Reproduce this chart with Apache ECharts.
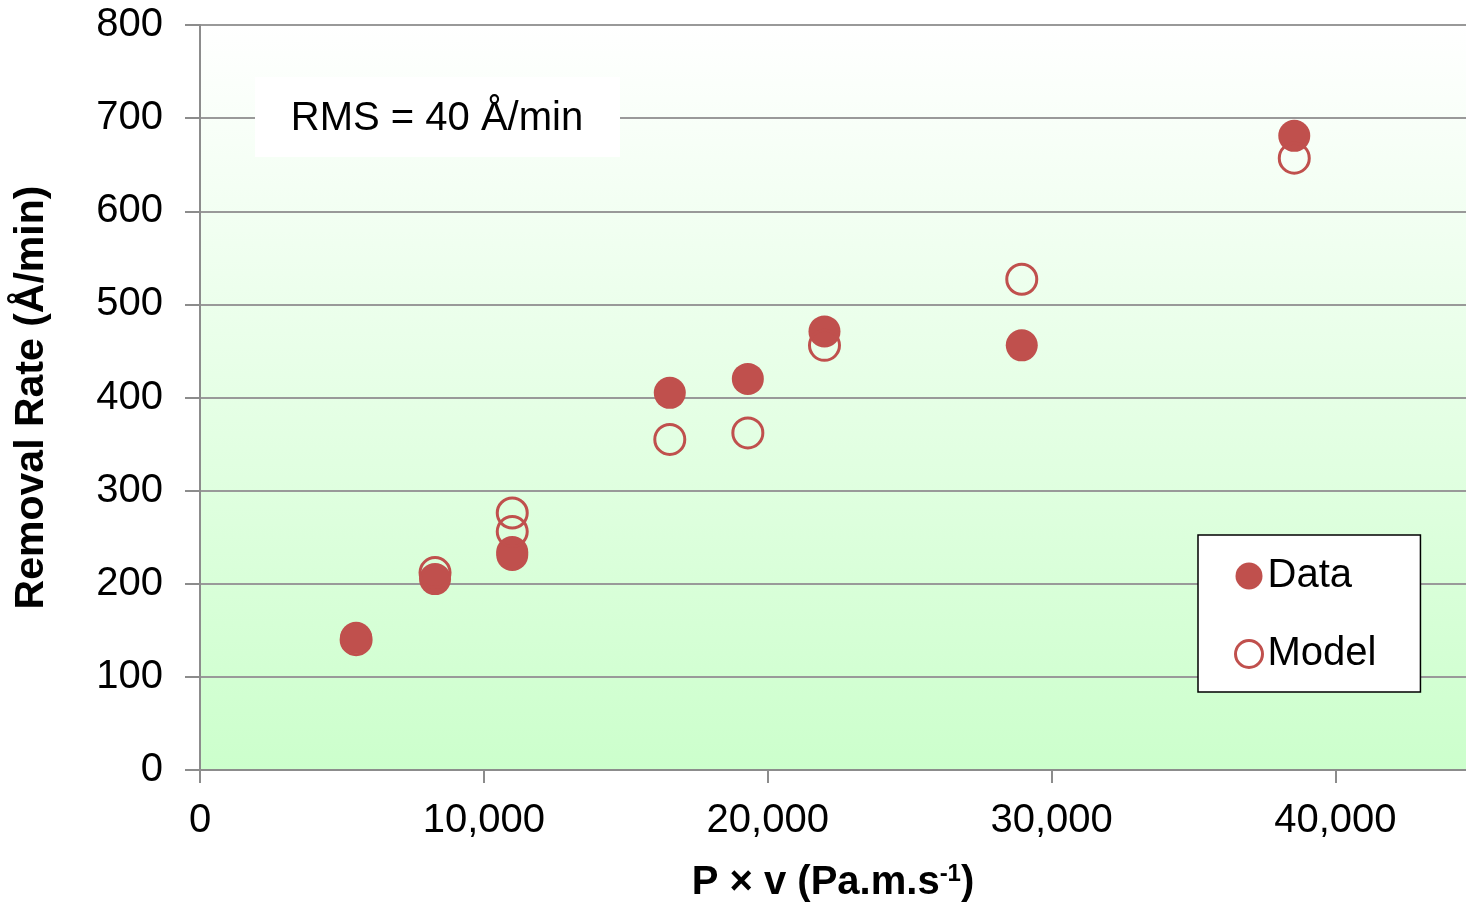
<!DOCTYPE html>
<html>
<head>
<meta charset="utf-8">
<title>Removal Rate vs P × v</title>
<script src="https://cdn.jsdelivr.net/npm/echarts@6/dist/echarts.min.js"></script>
<style>
  html, body { margin: 0; padding: 0; background: #ffffff; }
  #chart { width: 1466px; height: 904px; }
</style>
</head>
<body>
<div id="chart"></div>
<script>
// Measured removal rate (Å/min) against P × v (Pa.m.s⁻¹)
const dataPv   = [5500, 8280, 11000, 11000, 16550, 19300, 22000, 28950, 38550];
const dataRate = [142, 205, 231, 234, 405, 420, 471, 456, 681];

// Model predictions at the same P × v values
const modelPv   = [5500, 8280, 11000, 11000, 16550, 19300, 22000, 28950, 38550];
const modelRate = [140, 212, 256, 276, 355, 362, 456, 527, 657];

// Axis ranges; the x range runs a little past the last labelled tick
const xTicks = { min: 0, max: 44600, interval: 10000, lastLabel: 40000 };
const yTicks = { min: 0, max: 800, interval: 100 };

const rmsText = 'RMS = 40 Å/min';

const RED = '#C0504D';
const FONT = '"Liberation Sans", Arial, Helvetica, sans-serif';

const pairs = (xs, ys) => xs.map((x, i) => [x, ys[i]]);

const chart = echarts.init(document.getElementById('chart'), null, { renderer: 'canvas' });

chart.setOption({
  animation: false,
  backgroundColor: '#ffffff',
  textStyle: { fontFamily: FONT },
  grid: {
    left: 200,
    right: 0,
    top: 25,
    bottom: 134,
    outerBoundsMode: 'none',
    containLabel: false,
    show: true,
    borderWidth: 0,
    backgroundColor: new echarts.graphic.LinearGradient(0, 0, 0, 1, [
      { offset: 0, color: '#ffffff' },
      { offset: 1, color: '#ccffcc' }
    ])
  },
  xAxis: {
    type: 'value',
    min: xTicks.min,
    max: xTicks.max,
    interval: xTicks.interval,
    name: 'P × v (Pa.m.s{sup|-1})',
    nameLocation: 'middle',
    nameGap: 92,
    nameTextStyle: {
      fontFamily: FONT,
      fontSize: 40,
      fontWeight: 'bold',
      color: '#000',
      rich: {
        sup: { fontFamily: FONT, fontSize: 24, fontWeight: 'bold', color: '#000', verticalAlign: 'top', padding: [0, 0, 18, 0] }
      }
    },
    axisLine: { show: true, onZero: false, lineStyle: { color: '#8c8c8c', width: 2 } },
    axisTick: { show: true, length: 13, lineStyle: { color: '#8c8c8c', width: 2 } },
    axisLabel: {
      margin: 31,
      fontFamily: FONT,
      fontSize: 40,
      color: '#000',
      showMaxLabel: false,
      formatter: v => (v > xTicks.lastLabel ? '' : v.toLocaleString('en-US'))
    },
    splitLine: { show: false }
  },
  yAxis: {
    type: 'value',
    min: yTicks.min,
    max: yTicks.max,
    interval: yTicks.interval,
    name: 'Removal Rate (Å/min)',
    nameLocation: 'middle',
    nameGap: 148,
    nameTextStyle: { fontFamily: FONT, fontSize: 41, fontWeight: 'bold', color: '#000' },
    axisLine: { show: true, lineStyle: { color: '#8c8c8c', width: 2 } },
    axisTick: { show: true, length: 15, lineStyle: { color: '#8c8c8c', width: 2 } },
    axisLabel: { margin: 37, fontFamily: FONT, fontSize: 40, color: '#000' },
    splitLine: { show: true, lineStyle: { color: '#999999', width: 2 } }
  },
  legend: {
    left: 1198,
    top: 535,
    orient: 'vertical',
    backgroundColor: '#ffffff',
    borderColor: '#000000',
    borderWidth: 1.5,
    borderRadius: 0,
    padding: [21, 44, 18, 36],
    itemGap: 38,
    itemWidth: 27,
    itemHeight: 27,
    textStyle: { fontFamily: FONT, fontSize: 40, color: '#000' },
    data: [
      { name: 'Data', icon: 'circle', itemStyle: { color: RED } },
      { name: 'Model', icon: 'circle', itemStyle: { color: '#ffffff', borderColor: RED, borderWidth: 3 } }
    ]
  },
  series: [
    {
      name: 'Data',
      type: 'scatter',
      symbol: 'circle',
      symbolSize: 32,
      itemStyle: { color: RED, opacity: 1 },
      data: pairs(dataPv, dataRate),
      z: 2
    },
    {
      name: 'Model',
      type: 'scatter',
      symbol: 'circle',
      symbolSize: 30,
      itemStyle: { color: 'rgba(0,0,0,0)', borderColor: RED, borderWidth: 3, opacity: 1 },
      data: pairs(modelPv, modelRate),
      z: 3
    }
  ],
  graphic: [
    {
      type: 'rect',
      left: 255,
      top: 77,
      z: 100,
      shape: { width: 365, height: 80 },
      style: { fill: '#ffffff' }
    },
    {
      type: 'text',
      x: 437,
      y: 119,
      z: 101,
      style: {
        text: rmsText,
        fontFamily: FONT,
        fontSize: 40,
        fill: '#000',
        align: 'center',
        verticalAlign: 'middle'
      }
    }
  ]
});
</script>
</body>
</html>
